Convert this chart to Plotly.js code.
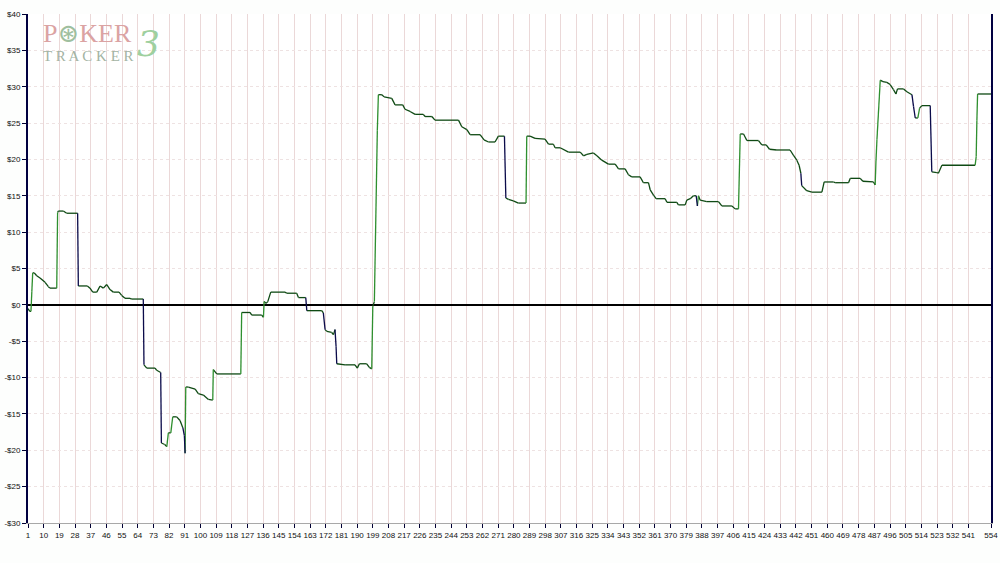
<!DOCTYPE html>
<html>
<head>
<meta charset="utf-8">
<script src="https://cdn.plot.ly/plotly-3.0.1.min.js"></script>
<style>
  html, body { margin: 0; padding: 0; background: #fdfefd; }
  #chart { width: 1000px; height: 563px; }
</style>
</head>
<body>
<div id="chart"></div>
<script>
// Hand numbers (x) and cumulative winnings in $ (y)
const hands = [1,2,2.7,3.2,3.7,4.6,6.0,7.9,10.8,12.7,13.6,17.5,18.0,18.4,21.3,23.2,29.5,29.9,35.1,36.6,38.2,40.5,42.4,44.3,46.2,48.1,50.0,53.3,54.8,56.7,59.6,60.6,67.2,67.6,69.2,74.0,74.9,77.2,77.6,79.5,80.7,81.6,83.0,84.1,86.4,88.3,89.9,90.8,91.2,91.6,93.1,97.0,98.8,101.7,104.6,107.1,107.4,109.4,123.2,123.7,128.5,129.5,135.2,136.2,136.6,137.7,138.7,140.4,148.6,149.6,155.3,156.3,160.5,161.1,169.7,170.6,171.6,172.6,175.4,176.4,177.3,177.9,178.3,183.1,188.8,190.1,191.3,195.5,197.0,198.4,199.0,199.9,201.6,202.2,204.2,205.5,209.9,211.8,216.2,217.5,220.4,223.3,228.0,229.0,232.9,234.7,248.2,250.1,253.0,254.9,260.6,262.9,265.4,269.2,271.1,274.6,275.4,276.9,279.7,282.6,287.0,287.4,289.3,292.2,297.9,299.9,302.7,303.7,306.6,311.4,318.1,320.0,321.9,325.7,327.7,330.5,334.3,338.2,340.1,343.9,345.8,347.7,352.5,354.4,357.3,358.3,360.2,361.7,366.9,367.9,373.6,374.5,378.4,379.3,381.3,383.1,384.7,385.4,386.0,387.0,390.8,397.5,399.4,405.2,407.1,409.0,410.0,411.9,413.8,420.5,422.4,424.9,426.8,431.0,438.6,440.5,442.5,443.8,444.8,445.3,448.2,451.1,456.9,458.2,463.6,464.5,472.2,473.2,478.9,480.4,486.5,487.5,487.9,488.5,490.4,491.9,494.2,496.1,498.0,499.4,500.3,503.8,505.7,508.6,509.5,510.5,512.0,513.0,514.3,519.1,520.0,522.9,523.8,525.8,544.9,545.5,545.9,546.3,554];
const winnings = [-0.5,-0.9,-0.9,1.8,4.4,4.4,4.0,3.7,3.1,2.5,2.3,2.3,12.7,12.9,12.9,12.6,12.6,2.6,2.6,2.3,1.75,1.75,2.6,2.3,2.8,2.1,1.75,1.75,1.3,0.9,0.9,0.8,0.8,-8.25,-8.7,-8.7,-9.0,-9.3,-19.0,-19.2,-19.5,-17.6,-17.6,-15.4,-15.4,-15.9,-16.9,-18.0,-20.4,-11.3,-11.3,-11.6,-12.2,-12.4,-13.0,-13.1,-8.9,-9.5,-9.5,-1.05,-1.05,-1.4,-1.4,-1.7,0.45,0.2,0.45,1.75,1.75,1.6,1.6,1.0,1.0,-0.8,-0.8,-1.1,-3.4,-3.65,-3.8,-4.1,-3.4,-5.7,-8.1,-8.25,-8.25,-8.7,-8.1,-8.1,-8.6,-8.8,-0.2,0.45,24.0,28.9,28.9,28.6,28.4,27.5,27.5,26.9,26.6,26.2,26.2,25.9,25.9,25.4,25.4,24.5,24.1,23.4,23.4,22.7,22.4,22.4,23.2,23.2,14.7,14.5,14.3,14.0,14.0,23.2,23.2,22.9,22.8,22.1,22.1,21.6,21.6,21.0,21.0,20.5,20.7,20.9,20.5,19.9,19.35,19.35,18.7,18.7,17.9,17.6,17.6,16.8,16.8,15.8,15.1,14.6,14.6,14.1,14.1,13.75,13.75,14.4,14.6,15.0,15.0,13.6,15.0,14.4,14.2,14.2,13.6,13.6,13.2,13.2,23.5,23.5,22.6,22.6,22.0,22.0,21.4,21.3,21.3,20.6,19.9,19.2,18.1,16.4,15.7,15.5,15.5,16.9,16.9,16.8,16.8,17.4,17.4,17.0,16.9,16.5,19.5,22.7,30.9,30.7,30.6,30.3,29.6,29.0,29.7,29.7,29.3,28.9,27.3,25.7,25.7,27.05,27.4,27.4,18.3,18.2,18.1,19.2,19.2,20.4,25.4,29.0,29.0];

// Axis ticks
const xTickVals = [1,10,19,28,37,46,55,64,73,82,91,100,109,118,127,136,145,154,163,172,181,190,199,208,217,226,235,244,253,262,271,280,289,298,307,316,325,334,343,352,361,370,379,388,397,406,415,424,433,442,451,460,469,478,487,496,505,514,523,532,541,554];
const yTickVals = [40,35,30,25,20,15,10,5,0,-5,-10,-15,-20,-25,-30];
const yTickText = ['$40','$35','$30','$25','$20','$15','$10','$5','$0','-$5','-$10','-$15','-$20','-$25','-$30'];

// Colour each segment by direction: up = green, down = navy, flat = dark green
const COL_UP = '#2f8f2f', COL_DOWN = '#0b0b4a', COL_FLAT = '#0f4a14';
const groups = {up: {x: [], y: []}, down: {x: [], y: []}, flat: {x: [], y: []}};
for (let i = 0; i < hands.length - 1; i++) {
  const d = winnings[i + 1] - winnings[i];
  const slope = d / (hands[i + 1] - hands[i]);
  let key = 'flat';
  if (slope > 1.2) key = 'up';
  else if (slope < -1.2) key = 'down';
  groups[key].x.push(hands[i], hands[i + 1], null);
  groups[key].y.push(winnings[i], winnings[i + 1], null);
}
const colors = {up: COL_UP, down: COL_DOWN, flat: COL_FLAT};
const traces = ['flat', 'up', 'down'].map(k => ({
  type: 'scatter', mode: 'lines', x: groups[k].x, y: groups[k].y,
  line: {color: colors[k], width: 1.3}, hoverinfo: 'skip', connectgaps: false, showlegend: false
}));

const tickFont = {family: 'Liberation Sans Narrow, Liberation Sans, Arial, sans-serif', size: 8, color: '#111111'};

const layout = {
  width: 1000, height: 563,
  margin: {l: 28, r: 9, t: 14, b: 40, pad: 0},
  paper_bgcolor: '#fdfefd', plot_bgcolor: '#ffffff',
  showlegend: false,
  xaxis: {
    range: [1, 554], tickmode: 'array', tickvals: xTickVals, tickangle: 0,
    ticks: 'outside', ticklen: 4, tickcolor: '#000033', tickwidth: 1,
    tickfont: tickFont,
    showgrid: true, gridcolor: '#ebd8d8', gridwidth: 1,
    showline: true, linecolor: '#a8a8a8', linewidth: 1,
    zeroline: false, fixedrange: true
  },
  yaxis: {
    range: [-30, 40], tickmode: 'array', tickvals: yTickVals, ticktext: yTickText,
    ticks: 'outside', ticklen: 4, tickcolor: '#000033', tickwidth: 1,
    tickfont: tickFont,
    showgrid: true, gridcolor: '#eee2e2', gridwidth: 1, griddash: 'dot',
    showline: true, linecolor: '#000040', linewidth: 2, mirror: true,
    zeroline: true, zerolinecolor: '#000000', zerolinewidth: 1.3,
    fixedrange: true
  },
  annotations: [
    {xref: 'paper', yref: 'paper', x: 0.013, y: 0.961, xanchor: 'left', yanchor: 'middle',
     text: 'P<span style="color:#9fbf9f">⊛</span>KER', showarrow: false,
     font: {family: 'Liberation Serif, DejaVu Serif, serif', size: 26, color: '#dba3a3'}},
    {xref: 'paper', yref: 'paper', x: 0.014, y: 0.918, xanchor: 'left', yanchor: 'middle',
     text: 'T R A C K E R', showarrow: false,
     font: {family: 'Liberation Serif, DejaVu Serif, serif', size: 15, color: '#a3b3a3'}},
    {xref: 'paper', yref: 'paper', x: 0.111, y: 0.942, xanchor: 'left', yanchor: 'middle',
     text: '<i>3</i>', showarrow: false,
     font: {family: 'DejaVu Serif, serif', size: 36, color: '#9fd09f'}}
  ]
};

Plotly.newPlot('chart', traces, layout, {staticPlot: true, displayModeBar: false});
</script>
</body>
</html>
